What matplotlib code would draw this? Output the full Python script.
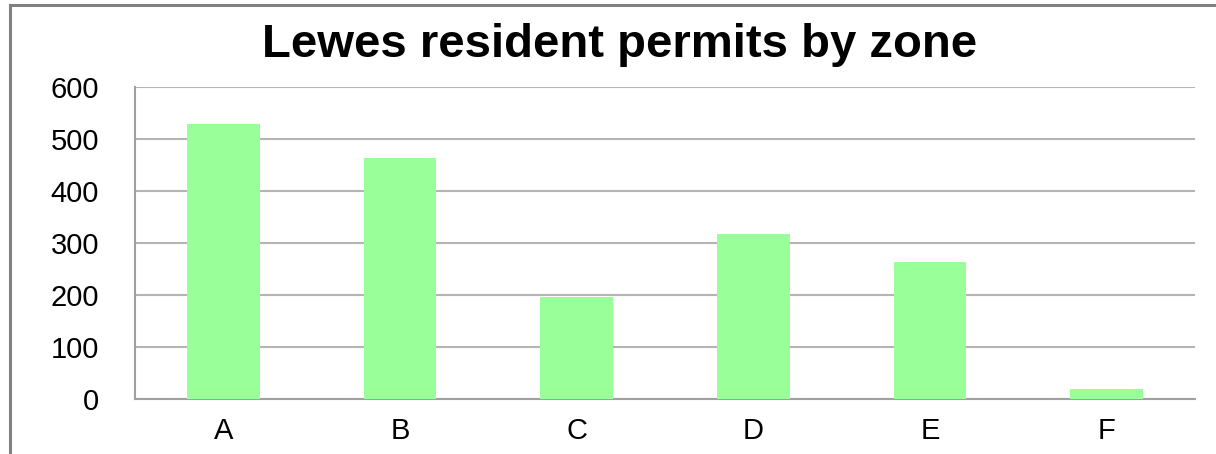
import matplotlib
matplotlib.use("Agg")
import matplotlib.pyplot as plt
from matplotlib.lines import Line2D

zones = ["A", "B", "C", "D", "E", "F"]
permits = [528, 464, 196, 318, 264, 20]
yticks = [0, 100, 200, 300, 400, 500, 600]
title = "Lewes resident permits by zone"

plt.rcParams['font.family'] = ['Liberation Sans', 'DejaVu Sans']

fig = plt.figure(figsize=(12.16, 4.54), dpi=100)
ax = fig.add_axes([135/1216, 55/454, (1195-135)/1216, (399-87)/454])

x = list(range(len(zones)))
ax.bar(x, permits, width=0.41, color="#99FF99", zorder=3)
ax.set_xlim(-0.5, len(zones) - 0.5)
ax.set_ylim(0, 600)
ax.set_yticks(yticks)
ax.set_yticklabels([str(v) for v in yticks])
ax.set_xticks(x)
ax.set_xticklabels(zones)
ax.yaxis.grid(True, color="#b4b4b4", linewidth=1.5, zorder=0)
ax.set_axisbelow(True)
for s in ["top", "right"]:
    ax.spines[s].set_visible(False)
for s in ["left", "bottom"]:
    ax.spines[s].set_color("#a0a0a0")
    ax.spines[s].set_linewidth(1.5)
ax.tick_params(axis="y", length=0, pad=26, labelsize=21)
ax.tick_params(axis="x", length=0, pad=13, labelsize=21)

fig.text(620/1216, 1 - 45/454, title, ha="center", va="center",
         fontsize=34, fontweight="bold")

# outer chart border (top and left edges)
fig.add_artist(Line2D([10/1216, 1.0], [1 - 5/454, 1 - 5/454], color="#808080",
                      linewidth=2.2, transform=fig.transFigure))
fig.add_artist(Line2D([10/1216, 10/1216], [0, 1 - 5/454], color="#808080",
                      linewidth=2.2, transform=fig.transFigure))

fig.savefig("out.png", dpi=100)
